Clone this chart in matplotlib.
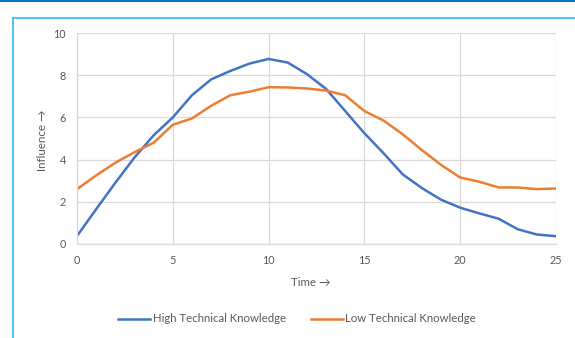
import matplotlib
matplotlib.use("Agg")
import matplotlib.pyplot as plt
from matplotlib.lines import Line2D

time = list(range(26))
high_knowledge = [0.38, 1.65, 2.9, 4.1, 5.15, 6.0, 7.05, 7.8, 8.2, 8.55, 8.77, 8.6,
                  8.05, 7.35, 6.3, 5.25, 4.3, 3.3, 2.65, 2.1, 1.72, 1.45, 1.2, 0.7, 0.45, 0.37]
low_knowledge = [2.6, 3.25, 3.85, 4.35, 4.8, 5.65, 5.95, 6.55, 7.05, 7.22, 7.43, 7.42,
                 7.37, 7.27, 7.05, 6.3, 5.85, 5.2, 4.45, 3.75, 3.15, 2.95, 2.68, 2.68, 2.6, 2.63]
series_names = ["High Technical Knowledge", "Low Technical Knowledge"]
x_ticks = [0, 5, 10, 15, 20, 25]
y_ticks = [0, 2, 4, 6, 8, 10]

plt.rcParams['font.family'] = ['Lato', 'DejaVu Sans']

W, H = 575, 338
fig = plt.figure(figsize=(W / 100, H / 100), dpi=100)
ax = fig.add_axes([77 / W, 1 - 244 / H, (556 - 77) / W, (244 - 33) / H])

blue = '#4472C4'
orange = '#ED7D31'
ax.plot(time, high_knowledge, color=blue, lw=1.8, solid_joinstyle='round')
ax.plot(time, low_knowledge, color=orange, lw=1.8, solid_joinstyle='round')

ax.set_xlim(0, 25)
ax.set_ylim(0, 10)
ax.set_xticks(x_ticks)
ax.set_yticks(y_ticks)
ax.grid(True, color='#D9D9D9', lw=0.9)
ax.set_axisbelow(True)
for s in ['top', 'right']:
    ax.spines[s].set_visible(False)
for s in ['left', 'bottom']:
    ax.spines[s].set_color('#D9D9D9')
    ax.spines[s].set_linewidth(0.9)
ax.tick_params(length=0, labelsize=7.8, labelcolor='#595959', pad=8)

fig.text(311 / W, 1 - 282 / H, 'Time →', ha='center', va='center', fontsize=8.3, color='#595959')
fig.text(42 / W, 1 - 140 / H, 'Influence →', ha='center', va='center', rotation=90,
         fontsize=8.3, color='#595959')

handles = [Line2D([], [], color=blue, lw=1.8), Line2D([], [], color=orange, lw=1.8)]
fig.legend(handles, series_names, loc='center', bbox_to_anchor=(297 / W, 1 - 319 / H),
           ncol=2, frameon=False, fontsize=8.2, labelcolor='#595959', handlelength=2.8,
           handletextpad=0.25, columnspacing=2.2)

# frame lines
fig.add_artist(Line2D([0, 1], [1 - 0.8 / H, 1 - 0.8 / H], transform=fig.transFigure,
                      color='#0070C0', lw=1.5))
fig.add_artist(Line2D([12.5 / W, 1], [1 - 17.5 / H, 1 - 17.5 / H], transform=fig.transFigure,
                      color='#3DBEEF', lw=1.3))
fig.add_artist(Line2D([12.5 / W, 12.5 / W], [0, 1 - 17.5 / H], transform=fig.transFigure,
                      color='#3DBEEF', lw=1.3))

fig.savefig('out.png', dpi=100)
